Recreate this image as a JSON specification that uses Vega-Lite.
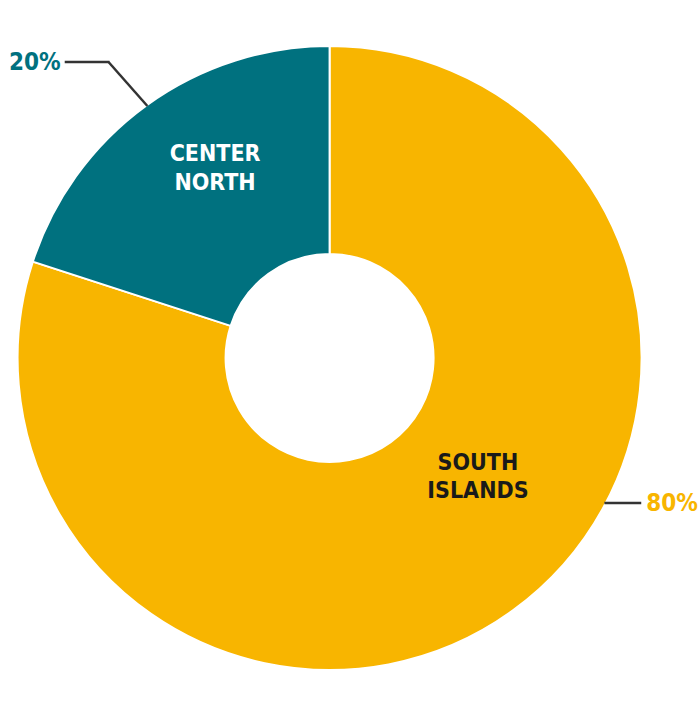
{
  "$schema": "https://vega.github.io/schema/vega-lite/v6.json",
  "autosize": {"type": "fit", "contains": "padding"},
  "width": 698,
  "height": 708,
  "padding": 0,
  "background": "#ffffff",
  "view": {"stroke": null},
  "data": {
    "values": [
      {"region": "South Islands", "share": 80, "pct": "80%", "name": ["SOUTH", "ISLANDS"]},
      {"region": "Center North", "share": 20, "pct": "20%", "name": ["CENTER", "NORTH"]}
    ]
  },
  "encoding": {
    "x": {"type": "quantitative", "scale": {"domain": [0, 698], "nice": false, "zero": false}, "axis": null},
    "y": {"type": "quantitative", "scale": {"domain": [0, 708], "nice": false, "zero": false, "reverse": true}, "axis": null}
  },
  "layer": [
    {
      "mark": {"type": "arc", "innerRadius": 104, "outerRadius": 312, "stroke": "#ffffff", "strokeWidth": 2},
      "encoding": {
        "x": {"datum": 331},
        "y": {"datum": 358},
        "theta": {"field": "share", "type": "quantitative", "stack": true},
        "order": {"field": "share", "sort": "descending"},
        "color": {
          "field": "region",
          "type": "nominal",
          "scale": {"domain": ["South Islands", "Center North"], "range": ["#f8b500", "#00717f"]},
          "legend": null
        }
      }
    },
    {
      "transform": [{"filter": "datum.region == 'Center North'"}],
      "mark": {"type": "text", "font": "DejaVu Sans Condensed, sans-serif", "fontWeight": "bold", "fontSize": 23, "lineHeight": 29, "color": "#ffffff", "align": "center", "baseline": "middle"},
      "encoding": {"x": {"datum": 216}, "y": {"datum": 154}, "text": {"field": "name"}}
    },
    {
      "transform": [{"filter": "datum.region == 'South Islands'"}],
      "mark": {"type": "text", "font": "DejaVu Sans Condensed, sans-serif", "fontWeight": "bold", "fontSize": 23, "lineHeight": 28, "color": "#1a1a1a", "align": "center", "baseline": "middle"},
      "encoding": {"x": {"datum": 480}, "y": {"datum": 463}, "text": {"field": "name"}}
    },
    {
      "transform": [{"filter": "datum.region == 'Center North'"}],
      "mark": {"type": "text", "font": "DejaVu Sans Condensed, sans-serif", "fontWeight": "bold", "fontSize": 24, "color": "#00717f", "align": "right", "baseline": "middle"},
      "encoding": {"x": {"datum": 61}, "y": {"datum": 63}, "text": {"field": "pct"}}
    },
    {
      "transform": [{"filter": "datum.region == 'South Islands'"}],
      "mark": {"type": "text", "font": "DejaVu Sans Condensed, sans-serif", "fontWeight": "bold", "fontSize": 24, "color": "#f8b500", "align": "left", "baseline": "middle"},
      "encoding": {"x": {"datum": 649}, "y": {"datum": 504}, "text": {"field": "pct"}}
    },
    {
      "transform": [{"filter": "datum.region == 'Center North'"}],
      "mark": {"type": "rule", "color": "#333333", "strokeWidth": 2.5},
      "encoding": {"x": {"datum": 65}, "x2": {"datum": 110}, "y": {"datum": 62}, "y2": {"datum": 62}}
    },
    {
      "transform": [{"filter": "datum.region == 'Center North'"}],
      "mark": {"type": "rule", "color": "#333333", "strokeWidth": 2.5},
      "encoding": {"x": {"datum": 109}, "x2": {"datum": 148}, "y": {"datum": 62}, "y2": {"datum": 106}}
    },
    {
      "transform": [{"filter": "datum.region == 'South Islands'"}],
      "mark": {"type": "rule", "color": "#333333", "strokeWidth": 2.5},
      "encoding": {"x": {"datum": 607}, "x2": {"datum": 644}, "y": {"datum": 503}, "y2": {"datum": 503}}
    }
  ]
}
